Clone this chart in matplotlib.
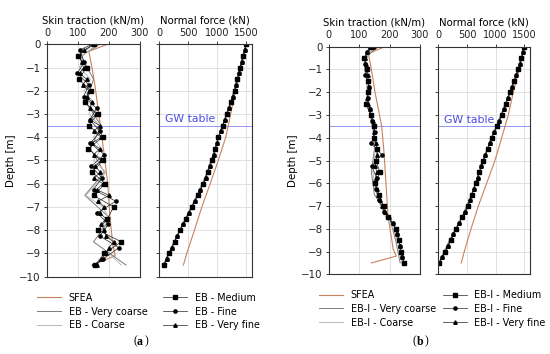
import matplotlib
matplotlib.use('Agg')
import matplotlib.pyplot as plt

# ---- depth grids (m) ----
depth_vc = [0, -0.5, -1.5, -2.5, -3.5, -4.5, -5.5, -6.5, -7.5, -8.5, -9.5]
depth_half = [0, -0.5, -1, -1.5, -2, -2.5, -3, -3.5, -4, -4.5, -5, -5.5, -6, -6.5, -7, -7.5, -8, -8.5, -9, -9.5]
depth_fine = [0, -0.25, -0.75, -1.25, -1.75, -2.25, -2.75, -3.25, -3.75, -4.25, -4.75, -5.25, -5.75,
              -6.25, -6.75, -7.25, -7.75, -8.25, -8.75, -9.25, -9.5]
depth_vf = [0, -0.25, -0.5, -0.75, -1, -1.25, -1.5, -1.75, -2, -2.25, -2.5, -2.75, -3, -3.25, -3.5,
            -3.75, -4, -4.25, -4.5, -4.75, -5, -5.25, -5.5, -5.75, -6, -6.25, -6.5, -6.75, -7, -7.25,
            -7.5, -7.75, -8, -8.25, -8.5, -8.75, -9, -9.25, -9.5]
depth_sfea_n = [0, -1, -2, -3, -4, -5, -6, -7, -8, -9, -9.5]

# ---- panel (a): EB ----
sfea_t_depth_a = [0, -0.3, -1, -1.8, -3.4, -4.8, -6, -7.4, -8.6, -9.1, -9.5]
sfea_t_a = [195, 135, 145, 155, 171, 185, 196, 203, 212, 220, 145]
sfea_n_a = [1500, 1415, 1315, 1235, 1150, 1020, 882, 738, 611, 478, 421]

vc_t_a = [170, 110, 150, 125, 175, 140, 185, 122, 205, 150, 255]
coarse_t_a = [160, 115, 105, 140, 120, 150, 135, 170, 150, 175, 150, 190, 160, 125, 180, 200, 175, 220, 200, 240]
med_t_a = [150, 100, 128, 102, 142, 122, 163, 135, 180, 132, 180, 145, 188, 150, 215, 195, 165, 240, 185, 155]
fine_t_a = [145, 105, 120, 98, 135, 118, 160, 138, 172, 140, 185, 142, 178, 150, 222, 162, 198, 170, 232, 180, 150]
vf_t_a = [150, 120, 100, 112, 118, 105, 128, 115, 135, 128, 145, 138, 158, 140, 170, 150, 175, 145, 170, 150,
          175, 155, 172, 152, 180, 160, 200, 165, 185, 170, 190, 175, 185, 190, 215, 200, 190, 175, 160]

vc_n_a = [1500, 1445, 1345, 1230, 1090, 960, 830, 655, 455, 260, 70]
coarse_n_a = [1500, 1447, 1396, 1347, 1297, 1235, 1163, 1093, 1018, 962, 902, 832, 757, 657, 557, 457, 355, 260, 165, 78]
med_n_a = [1500, 1450, 1400, 1352, 1303, 1240, 1170, 1100, 1025, 970, 910, 840, 765, 665, 565, 465, 363, 268, 173, 85]
fine_n_a = [1500, 1475, 1425, 1376, 1328, 1272, 1205, 1135, 1062, 998, 940, 875, 802, 715, 615, 515, 414, 315, 220, 130, 85]
vf_n_a = [1500, 1475, 1450, 1425, 1400, 1376, 1352, 1328, 1303, 1272, 1240, 1205, 1170, 1135, 1100, 1062, 1025,
          998, 970, 940, 910, 875, 840, 802, 765, 715, 665, 615, 565, 515, 465, 414, 363, 315, 268, 220, 173, 130, 85]

# ---- panel (b): EB-I ----
sfea_t_depth_b = [0, -0.3, -1, -2, -3.5, -4.7, -6, -7.45, -8.9, -9.2, -9.5]
sfea_t_b = [185, 130, 140, 152, 174, 182, 188, 195, 212, 222, 140]
sfea_n_b = [1500, 1410, 1308, 1221, 1105, 988, 843, 698, 570, 453, 400]

vc_t_b = [160, 120, 125, 128, 145, 150, 140, 150, 200, 220, 235]
coarse_t_b = [150, 122, 120, 126, 128, 132, 136, 142, 150, 152, 150, 145, 148, 160, 170, 188, 212, 226, 232, 240]
med_t_b = [140, 116, 124, 130, 130, 121, 138, 150, 148, 160, 155, 168, 152, 165, 180, 195, 222, 231, 237, 247]
fine_t_b = [150, 125, 118, 120, 133, 128, 135, 141, 152, 140, 175, 141, 157, 155, 165, 182, 210, 226, 234, 242, 247]
vf_t_b = [135, 125, 118, 122, 125, 128, 130, 132, 130, 125, 128, 135, 140, 145, 150, 148, 150, 155, 158, 160,
          155, 152, 158, 155, 152, 158, 162, 168, 175, 185, 198, 210, 220, 226, 230, 234, 237, 242, 247]

vc_n_b = [1500, 1445, 1320, 1170, 1010, 850, 710, 580, 405, 195, 10]
coarse_n_b = [1500, 1448, 1392, 1322, 1246, 1174, 1100, 1012, 925, 852, 780, 712, 646, 582, 515, 410, 305, 210, 115, 12]
med_n_b = [1500, 1450, 1395, 1325, 1250, 1178, 1105, 1017, 930, 858, 785, 718, 651, 587, 520, 415, 310, 215, 120, 15]
fine_n_b = [1500, 1475, 1422, 1360, 1288, 1214, 1141, 1061, 974, 894, 822, 752, 685, 619, 554, 468, 362, 262, 168, 68, 15]
vf_n_b = [1500, 1475, 1450, 1422, 1395, 1360, 1325, 1288, 1250, 1214, 1178, 1141, 1105, 1061, 1017, 974, 930,
          894, 858, 822, 785, 752, 718, 685, 651, 619, 587, 554, 520, 468, 415, 362, 310, 262, 215, 168, 120, 68, 15]

gw_depth = -3.5
depth_ticks = [0, -1, -2, -3, -4, -5, -6, -7, -8, -9, -10]
skin_ticks = [0, 100, 200, 300]
force_ticks = [0, 500, 1000, 1500]

SFEA_C = '#c8825a'
VC_C = '#7a7a7a'
C_C = '#b8b8b8'
EB_C = '#222222'
GW_C = '#7a7af2'
GW_TXT = '#4b4be6'

plt.rcParams['font.family'] = 'DejaVu Sans'
plt.rcParams['font.size'] = 7.0
plt.rcParams['axes.unicode_minus'] = True

fig = plt.figure(figsize=(5.5, 3.54), dpi=100)


def style_axis(ax, xlim, xticks, title, ylabels):
	ax.set_xlim(*xlim)
	ax.set_ylim(-10, 0)
	ax.set_xticks(xticks)
	ax.set_yticks(depth_ticks)
	ax.xaxis.tick_top()
	ax.xaxis.set_label_position('top')
	ax.set_xlabel(title, labelpad=3.5, fontsize=7.3)
	ax.tick_params(axis='x', labelsize=7.0)
	ax.tick_params(axis='y', labelsize=7.4)
	ax.tick_params(length=2.5, width=0.6, pad=2, colors='#222222')
	ax.grid(True, color='#dcdcdc', lw=0.6)
	ax.set_axisbelow(True)
	for s in ax.spines.values():
		s.set_linewidth(0.8)
		s.set_color('#333333')
	if not ylabels:
		ax.set_yticklabels([])
	ax.axhline(gw_depth, color=GW_C, lw=0.7, alpha=0.8)


def draw_panel(rect_t, rect_n, d, prefix, legend_y):
	(st_d, st, sn, vct, ct, mt, ft, vft, vcn, cn, mn, fn, vfn) = d
	ax1 = fig.add_axes(rect_t)
	ax2 = fig.add_axes(rect_n)
	style_axis(ax1, (0, 300), skin_ticks, 'Skin traction (kN/m)', True)
	style_axis(ax2, (0, 1600), force_ticks, 'Normal force (kN)', False)
	ax1.set_ylabel('Depth [m]', labelpad=2, fontsize=7.4)

	mk = dict(color=EB_C, lw=0.5, mfc='black', mec='black')
	for ax, vals in ((ax1, (st, vct, ct, mt, ft, vft)), (ax2, (sn, vcn, cn, mn, fn, vfn))):
		sd = st_d if ax is ax1 else depth_sfea_n
		ax.plot(vals[0], sd, color=SFEA_C, lw=0.8, label='SFEA')
		ax.plot(vals[1], depth_vc, color=VC_C, lw=0.7, label=prefix + ' - Very coarse')
		ax.plot(vals[2], depth_half, color=C_C, lw=0.7, label=prefix + ' - Coarse')
		ax.plot(vals[3], depth_half, marker='s', ms=2.6, label=prefix + ' - Medium', **mk)
		ax.plot(vals[4], depth_fine, marker='o', ms=2.3, label=prefix + ' - Fine', **mk)
		ax.plot(vals[5], depth_vf, marker='^', ms=2.5, label=prefix + ' - Very fine', **mk)

	ax2.text(100, -3.2, 'GW table', color=GW_TXT, fontsize=7.8, va='center')

	h, l = ax1.get_legend_handles_labels()
	leg_kw = dict(frameon=False, fontsize=6.9, handlelength=2.5, handletextpad=0.8,
	              labelspacing=0.4, borderpad=0, borderaxespad=0)
	fig.legend(h[:3], l[:3], loc='upper left',
	           bbox_to_anchor=(rect_t[0] - 0.018, legend_y), **leg_kw)
	fig.legend(h[3:], l[3:], loc='upper left',
	           bbox_to_anchor=(rect_n[0] + 0.008, legend_y), **leg_kw)


data_a = (sfea_t_depth_a, sfea_t_a, sfea_n_a, vc_t_a, coarse_t_a, med_t_a, fine_t_a, vf_t_a,
          vc_n_a, coarse_n_a, med_n_a, fine_n_a, vf_n_a)
data_b = (sfea_t_depth_b, sfea_t_b, sfea_n_b, vc_t_b, coarse_t_b, med_t_b, fine_t_b, vf_t_b,
          vc_n_b, coarse_n_b, med_n_b, fine_n_b, vf_n_b)

draw_panel([0.0855, 0.2184, 0.169, 0.6565], [0.289, 0.2184, 0.169, 0.6565], data_a, 'EB', 0.173)
draw_panel([0.598, 0.2251, 0.1655, 0.643], [0.797, 0.2251, 0.1667, 0.643], data_b, 'EB-I', 0.181)

fig.text(0.249, 0.035, '(', fontsize=8.5, family='Liberation Serif', ha='right', va='center')
fig.text(0.249, 0.035, 'a', fontsize=8.5, family='Liberation Serif', weight='bold', ha='left', va='center')
fig.text(0.263, 0.035, ')', fontsize=8.5, family='Liberation Serif', ha='left', va='center')
fig.text(0.757, 0.035, '(', fontsize=8.5, family='Liberation Serif', ha='right', va='center')
fig.text(0.757, 0.035, 'b', fontsize=8.5, family='Liberation Serif', weight='bold', ha='left', va='center')
fig.text(0.772, 0.035, ')', fontsize=8.5, family='Liberation Serif', ha='left', va='center')

fig.savefig('out.png', dpi=100)
